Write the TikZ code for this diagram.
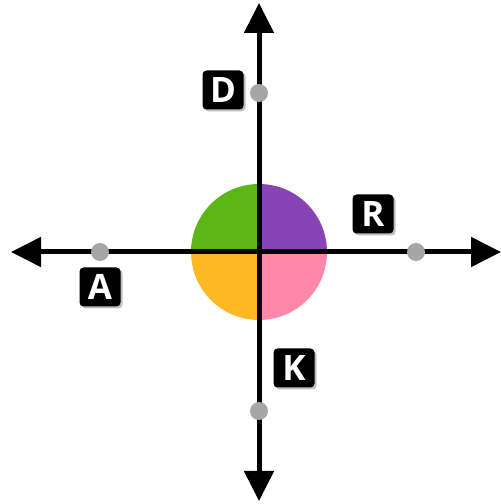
\documentclass[tikz,border=0pt]{standalone}
\usepackage{fontspec}
\setmainfont{Open Sans}
\usetikzlibrary{arrows.meta,shadows}
\definecolor{qgreen}{RGB}{92,183,22}
\definecolor{qpurple}{RGB}{136,68,181}
\definecolor{qorange}{RGB}{254,184,36}
\definecolor{qpink}{RGB}{255,136,170}
\definecolor{dotgray}{RGB}{166,166,166}
\tikzset{
  axis/.style={line width=5pt,-{Triangle[length=30pt,width=29pt]}},
  pt/.style={circle,fill=dotgray,inner sep=0pt,minimum size=18pt},
  lbl/.style={fill=black,text=white,rounded corners=4pt,minimum width=41pt,minimum height=39pt,inner sep=0pt,
    font=\fontsize{35}{35}\selectfont\bfseries,
    drop shadow={shadow xshift=2pt,shadow yshift=-2pt,opacity=0.25,fill=black}}
}
\begin{document}
\begin{tikzpicture}[x=1pt,y=1pt]
        \useasboundingbox (0,0) rectangle (501,504);
        \coordinate (c) at (259,252);
        % quadrants
        \fill[qgreen] (c) -- ++(180:68) arc[start angle=180,end angle=90,radius=68] -- cycle;
        \fill[qpurple] (c) -- ++(90:68) arc[start angle=90,end angle=0,radius=68] -- cycle;
        \fill[qpink] (c) -- ++(0:68) arc[start angle=0,end angle=-90,radius=68] -- cycle;
        \fill[qorange] (c) -- ++(-90:68) arc[start angle=-90,end angle=-180,radius=68] -- cycle;
        % axes
        \coordinate (top) at (259,501);
        \coordinate (bot) at (259,3);
        \coordinate (lft) at (11,252);
        \coordinate (rgt) at (501,252);
        \draw[axis] (c) -- (top);
        \draw[axis] (c) -- (bot);
        \draw[axis] (c) -- (lft);
        \draw[axis] (c) -- (rgt);
        % points
        \node[pt] (pd) at (259,411) {};
        \node[pt] (pa) at (100,252) {};
        \node[pt] (pr) at (416,252) {};
        \node[pt] (pk) at (259,93) {};
        \node[lbl] (d) at (223,414) {D};
        \node[lbl] (a) at (100,217) {A};
        \node[lbl] (r) at (373,290) {R};
        \node[lbl] (k) at (294,136) {K};
        \end{tikzpicture}
\end{document}
